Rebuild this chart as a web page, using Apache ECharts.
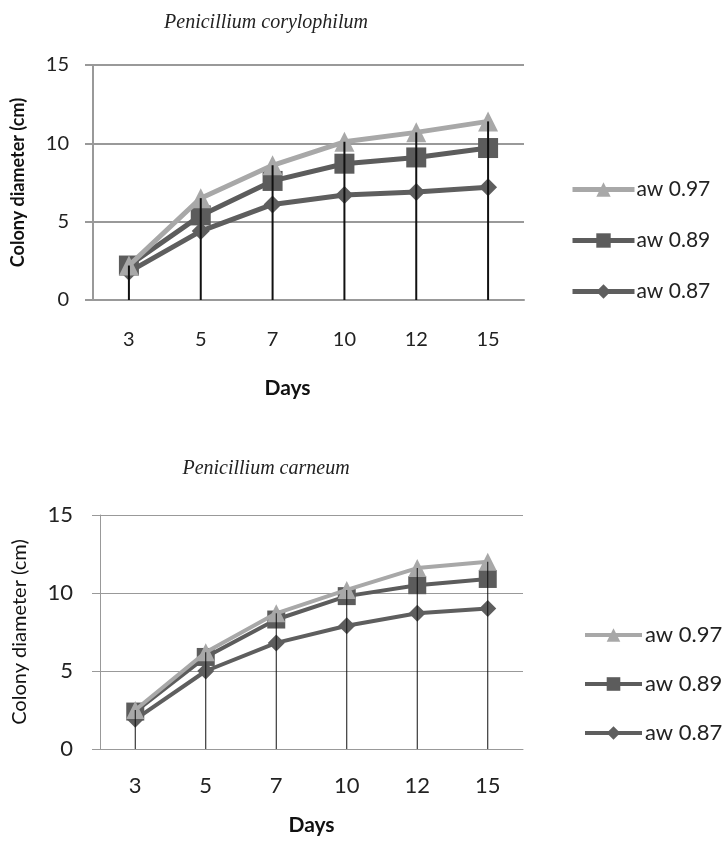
<!DOCTYPE html>
<html><head><meta charset="utf-8">
<script src="https://cdn.jsdelivr.net/npm/echarts@6/dist/echarts.min.js"></script>
<style>html,body{margin:0;padding:0;background:#fff}#c{width:727px;height:842px}</style>
</head><body><div id="c"></div>
<script>
const days = ['3', '5', '7', '10', '12', '15'];
const yTicks = [0, 5, 10, 15];
const seriesNames = ['aw 0.97', 'aw 0.89', 'aw 0.87'];
// Penicillium corylophilum
const coryAw097 = [2.2, 6.5, 8.6, 10.1, 10.7, 11.4];
const coryAw089 = [2.2, 5.4, 7.6, 8.7, 9.1, 9.7];
const coryAw087 = [1.8, 4.4, 6.1, 6.7, 6.9, 7.2];
// Penicillium carneum
const carnAw097 = [2.5, 6.2, 8.7, 10.2, 11.6, 12.0];
const carnAw089 = [2.4, 5.9, 8.3, 9.8, 10.5, 10.9];
const carnAw087 = [1.9, 5.0, 6.8, 7.9, 8.7, 9.0];

const colors = ['#a8a8a8', '#5c5c5c', '#5e5e5e'];
const symbols = ['triangle', 'rect', 'diamond'];

const chart = echarts.init(document.getElementById('c'), null, {renderer: 'canvas'});
const sans = 'Lato';

function lineSeries(idx, data, gi, lw, ss) {
  return {
    type: 'line', name: seriesNames[idx], data: data,
    xAxisIndex: gi, yAxisIndex: gi,
    symbol: symbols[idx], symbolSize: ss[idx],
    lineStyle: {color: colors[idx], width: lw},
    itemStyle: {color: colors[idx]},
    z: 3 - idx * 0.1
  };
}
function dropSeries(data, gi, w) {
  return {
    type: 'bar', data: data, xAxisIndex: gi, yAxisIndex: gi,
    barWidth: w, itemStyle: {color: '#111'}, z: 5, silent: true,
    legendHoverLink: false
  };
}
function yAxis(gi, name, bold, nameSize, gap, gw, lblSize, lblMargin) {
  return {
    type: 'value', gridIndex: gi, min: yTicks[0], max: yTicks[yTicks.length - 1], interval: 5,
    name: name, nameLocation: 'middle', nameGap: gap,
    nameTextStyle: {fontFamily: sans, fontSize: nameSize, fontWeight: bold ? 'bold' : 'normal', color: '#111'},
    axisLine: {show: true, lineStyle: {color: '#999', width: gw}},
    axisTick: {show: true, length: 8, lineStyle: {color: '#999', width: gw}},
    axisLabel: {fontFamily: sans, fontSize: lblSize, color: '#222', margin: lblMargin},
    splitLine: {lineStyle: {color: '#999', width: gw}}
  };
}
function xAxis(gi, nameGap, pad, margin, lw, lblSize) {
  return {
    type: 'category', gridIndex: gi, data: days, boundaryGap: true,
    name: 'Days', nameLocation: 'middle', nameGap: nameGap,
    nameTextStyle: {fontFamily: sans, fontSize: 21, fontWeight: 'bold', color: '#111', padding: pad, verticalAlign: 'top'},
    axisLine: {lineStyle: {color: '#999', width: lw}},
    axisTick: {show: false},
    axisLabel: {fontFamily: sans, fontSize: lblSize, color: '#222', margin: margin}
  };
}

const option = {
  backgroundColor: '#fff',
  animation: false,
  title: [
    {text: 'Penicillium corylophilum', left: 261, top: 8, textAlign: 'center',
     textStyle: {fontFamily: 'Liberation Serif', fontStyle: 'italic', fontWeight: 'normal', fontSize: 20, color: '#222'}},
    {text: 'Penicillium carneum', left: 261, top: 454, textAlign: 'center',
     textStyle: {fontFamily: 'Liberation Serif', fontStyle: 'italic', fontWeight: 'normal', fontSize: 20, color: '#222'}}
  ],
  legend: [
    {data: seriesNames.map(n => ({name: n})), orient: 'vertical', left: 565, top: 174, itemGap: 30,
     itemWidth: 62, itemHeight: 18, lineStyle: {width: 5},
     textStyle: {fontFamily: sans, fontSize: 21, color: '#222', padding: [0, 0, 0, -3]},
     selectedMode: false},
    {data: seriesNames.map(n => ({name: n})), orient: 'vertical', left: 578, top: 619, itemGap: 27,
     itemWidth: 57, itemHeight: 17, lineStyle: {width: 4},
     textStyle: {fontFamily: sans, fontSize: 22, color: '#222', padding: [0, 0, 0, -2]},
     selectedMode: false}
  ],
  grid: [
    {left: 93, top: 65, width: 431, height: 235},
    {left: 100, top: 515, width: 423, height: 234}
  ],
  xAxis: [xAxis(0, 78, [0, 42, 0, 0], 30, 2, 20), xAxis(1, 66, [0, 0, 0, 0], 26, 1, 22)],
  yAxis: [yAxis(0, 'Colony diameter (cm)', true, 18, 66, 2, 20, 24),
          yAxis(1, 'Colony diameter (cm)', false, 20, 70, 1, 22, 27)],
  series: [
    lineSeries(0, coryAw097, 0, 5, [20, 20, 18]),
    lineSeries(1, coryAw089, 0, 5, [20, 20, 18]),
    lineSeries(2, coryAw087, 0, 5, [20, 20, 18]),
    dropSeries(coryAw097, 0, 2),
    lineSeries(0, carnAw097, 1, 4, [18, 18, 17]),
    lineSeries(1, carnAw089, 1, 4, [18, 18, 17]),
    lineSeries(2, carnAw087, 1, 4, [18, 18, 17]),
    dropSeries(carnAw097, 1, 1)
  ]
};
chart.setOption(option);
</script>
</body></html>
